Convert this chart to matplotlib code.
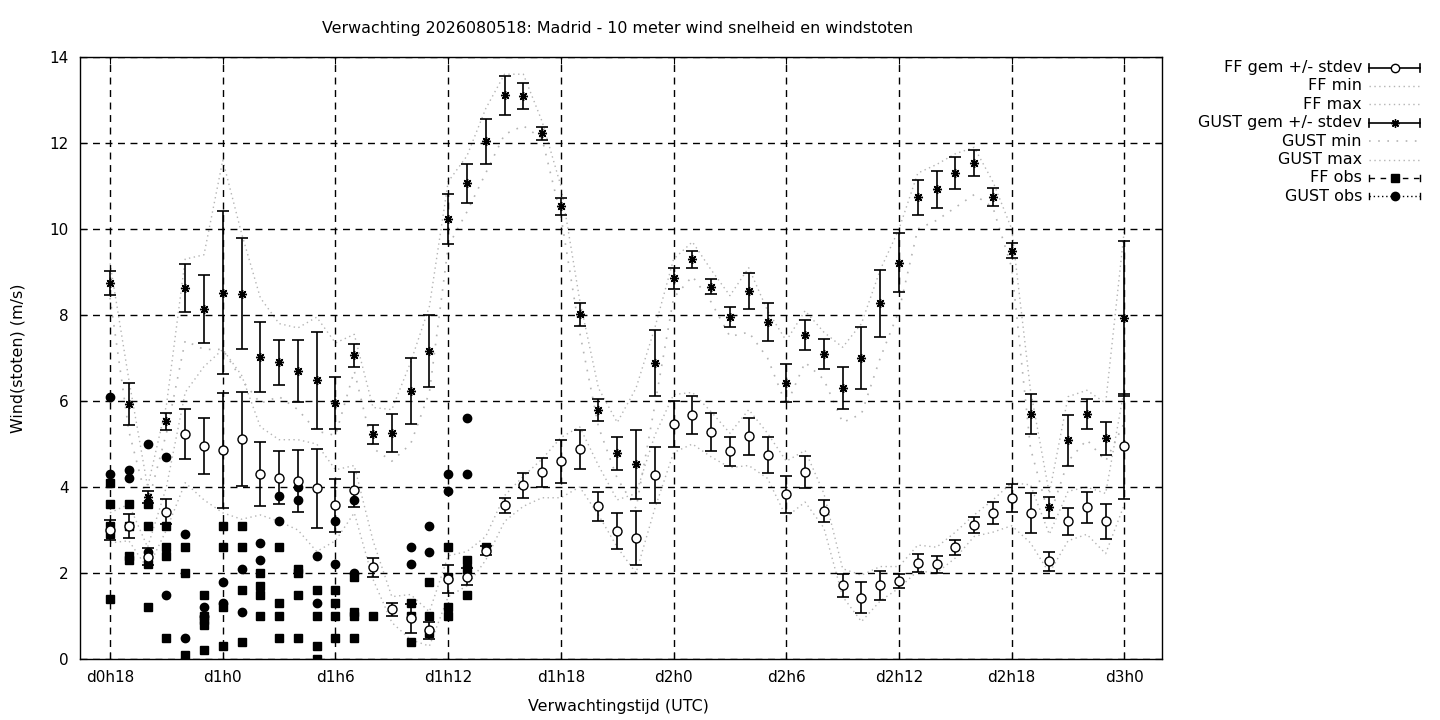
import numpy as np
import matplotlib.pyplot as plt

# forecast hours (d0h18 .. d3h0), hours counted from d0h0
hours = np.arange(18, 73)

ff_mean = [3.0, 3.1, 2.38, 3.43, 5.23, 4.95, 4.85, 5.11, 4.30, 4.22, 4.14, 3.97, 3.57, 3.94,
           2.13, 1.16, 0.95, 0.67, 1.86, 1.91, 2.52, 3.57, 4.04, 4.34, 4.60, 4.88, 3.55, 2.97,
           2.81, 4.27, 5.47, 5.67, 5.27, 4.83, 5.18, 4.74, 3.83, 4.34, 3.44, 1.71, 1.43, 1.71,
           1.81, 2.23, 2.20, 2.60, 3.11, 3.39, 3.74, 3.39, 2.27, 3.20, 3.53, 3.20, 4.95]
ff_sd = [0.24, 0.28, 0.2, 0.28, 0.58, 0.65, 1.33, 1.09, 0.75, 0.62, 0.73, 0.92, 0.61, 0.4,
         0.23, 0.15, 0.34, 0.2, 0.33, 0.2, 0.1, 0.18, 0.29, 0.33, 0.5, 0.45, 0.34, 0.42,
         0.63, 0.65, 0.54, 0.44, 0.44, 0.33, 0.43, 0.42, 0.43, 0.37, 0.25, 0.26, 0.36, 0.33,
         0.16, 0.21, 0.19, 0.17, 0.19, 0.26, 0.32, 0.47, 0.23, 0.32, 0.36, 0.41, 1.22]
ff_min = [2.7, 2.75, 2.1, 3.0, 4.1, 3.7, 3.4, 3.25, 3.35, 3.2, 3.0, 2.5, 2.75, 3.4,
          1.85, 0.85, 0.45, 0.3, 1.45, 1.7, 2.3, 3.2, 3.55, 3.75, 3.75, 4.0, 3.35, 2.6,
          2.0, 3.5, 4.8, 5.0, 4.7, 4.45, 4.5, 4.2, 3.3, 3.65, 3.05, 1.45, 0.87, 1.35,
          1.65, 2.05, 2.0, 2.35, 2.85, 2.95, 3.1, 2.7, 2.0, 2.75, 2.9, 2.45, 3.6]
ff_max = [3.4, 3.6, 2.6, 4.0, 6.2, 6.8, 7.2, 6.6, 5.4, 5.1, 5.1, 5.0, 4.4, 4.5,
          2.75, 1.45, 1.5, 1.1, 2.4, 2.5, 2.85, 3.8, 4.25, 4.65, 5.15, 5.4, 4.5, 3.7,
          3.85, 5.2, 6.15, 6.2, 5.75, 5.25, 5.8, 5.25, 4.6, 4.85, 3.85, 2.1, 1.95, 2.15,
          2.15, 2.65, 2.6, 2.95, 3.35, 3.7, 4.1, 4.05, 2.9, 3.9, 4.0, 3.85, 6.3]

gust_mean = [8.74, 5.93, 3.77, 5.53, 8.62, 8.13, 8.52, 8.50, 7.02, 6.90, 6.70, 6.48, 5.95, 7.06,
             5.23, 5.26, 6.23, 7.16, 10.23, 11.06, 12.04, 13.11, 13.09, 12.23, 10.53, 8.02, 5.79, 4.78,
             4.53, 6.88, 8.85, 9.30, 8.66, 7.95, 8.56, 7.83, 6.41, 7.53, 7.09, 6.30, 6.99, 8.27,
             9.22, 10.74, 10.92, 11.30, 11.53, 10.74, 9.50, 5.70, 3.53, 5.09, 5.69, 5.13, 7.92]
gust_sd = [0.28, 0.49, 0.14, 0.2, 0.56, 0.79, 1.9, 1.29, 0.82, 0.52, 0.72, 1.12, 0.6, 0.27,
           0.22, 0.44, 0.77, 0.83, 0.58, 0.45, 0.52, 0.45, 0.3, 0.15, 0.2, 0.27, 0.25, 0.38,
           0.8, 0.76, 0.25, 0.2, 0.18, 0.24, 0.42, 0.44, 0.44, 0.35, 0.35, 0.49, 0.72, 0.78,
           0.68, 0.41, 0.42, 0.38, 0.3, 0.21, 0.18, 0.47, 0.24, 0.59, 0.35, 0.39, 1.8]
gust_min = [8.4, 5.3, 3.6, 5.25, 7.4, 7.2, 7.2, 6.5, 5.95, 6.1, 5.8, 5.3, 5.2, 6.7,
            4.9, 4.6, 5.0, 6.2, 9.6, 10.4, 11.3, 12.2, 12.4, 12.1, 10.3, 7.6, 5.4, 4.2,
            3.5, 5.9, 8.4, 8.9, 8.3, 7.5, 7.6, 7.0, 5.9, 6.9, 6.5, 5.5, 5.7, 7.0,
            8.1, 10.0, 10.2, 10.5, 10.8, 10.5, 9.1, 4.9, 3.3, 4.6, 5.1, 4.6, 5.5]
gust_max = [9.2, 6.5, 4.0, 5.9, 9.3, 9.4, 11.6, 9.9, 8.4, 7.8, 7.7, 7.95, 7.35, 7.55,
            5.85, 5.8, 6.9, 8.2, 11.1, 11.7, 12.8, 13.6, 13.6, 12.5, 11.0, 8.35, 6.3, 5.5,
            6.3, 7.7, 9.3, 9.7, 9.05, 8.45, 9.1, 8.1, 7.4, 8.1, 7.6, 7.25, 7.8, 9.05,
            10.0, 11.3, 11.5, 11.75, 11.9, 11.1, 10.0, 6.25, 3.85, 6.1, 6.25, 5.95, 10.0]

# observations (several stations per hour)
obs_hours = list(range(18, 39))
ff_obs = [[4.1, 3.6, 3.1, 2.9, 1.4], [3.6, 3.1, 2.4, 2.3], [3.6, 3.1, 2.2, 1.2],
          [3.1, 2.6, 2.4, 0.5], [2.6, 2.0, 0.1], [1.5, 1.0, 0.9, 0.8, 0.2],
          [3.1, 2.6, 1.2, 0.3], [3.1, 2.6, 1.6, 0.4], [2.0, 1.7, 1.5, 1.0],
          [2.6, 1.3, 1.0, 0.5], [2.1, 2.0, 1.5, 0.5], [1.6, 1.0, 0.3, 0.0],
          [1.6, 1.3, 1.0, 0.5], [1.9, 1.1, 1.0, 0.5], [1.0], [],
          [1.3, 1.0, 0.4], [1.8, 1.0, 0.6], [2.6, 1.9, 1.2, 1.0], [2.3, 2.1, 1.5], [2.6]]
gust_obs = [[6.1, 4.3], [4.4, 4.2], [5.0, 2.5], [4.7, 1.5], [2.9, 0.5], [1.2, 1.0],
            [1.8, 1.3], [2.1, 1.1], [2.7, 2.3], [3.8, 3.2], [4.0, 3.7], [2.4, 1.3],
            [3.2, 2.2], [3.7, 2.0], [], [], [2.6, 2.2], [3.1, 2.5], [4.3, 3.9],
            [5.6, 4.3], []]

tick_pos = [18, 24, 30, 36, 42, 48, 54, 60, 66, 72]
tick_lab = ['d0h18', 'd1h0', 'd1h6', 'd1h12', 'd1h18', 'd2h0', 'd2h6', 'd2h12', 'd2h18', 'd3h0']

legend_labels = ['FF gem +/- stdev', 'FF min', 'FF max', 'GUST gem +/- stdev',
                 'GUST min', 'GUST max', 'FF obs', 'GUST obs']

plt.rcParams['font.family'] = 'DejaVu Sans'
grey = '#b4b4b4'
dots = (0, (1, 2.5))
sparse = (0, (1, 4.5))
asterisk = (8, 2, 0)

fig = plt.figure(figsize=(14.4, 7.2), dpi=100)
ax = fig.add_axes([80/1440, 61/720, 1082/1440, 602/720])

# min/max envelopes
ax.plot(hours, ff_min, color=grey, lw=1, ls=dots, zorder=1)
ax.plot(hours, ff_max, color=grey, lw=1, ls=dots, zorder=1)
ax.plot(hours, gust_min, color=grey, lw=1.2, ls=sparse, zorder=1)
ax.plot(hours, gust_max, color=grey, lw=1, ls=dots, zorder=1)

# observations
fx = [h for h, vals in zip(obs_hours, ff_obs) for v in vals]
fy = [v for vals in ff_obs for v in vals]
gx = [h for h, vals in zip(obs_hours, gust_obs) for v in vals]
gy = [v for vals in gust_obs for v in vals]
ax.plot(fx, fy, ls='none', marker='s', ms=6, color='black', zorder=3)
ax.plot(gx, gy, ls='none', marker='o', ms=6, color='black', zorder=3)

# means with stdev
ax.errorbar(hours, gust_mean, yerr=gust_sd, fmt='none', ecolor='black', elinewidth=1.2,
            capsize=4, capthick=1.2, zorder=4)
ax.plot(hours, gust_mean, ls='none', marker=asterisk, ms=6.5, mew=1, color='black', zorder=5)
ax.errorbar(hours, ff_mean, yerr=ff_sd, fmt='none', ecolor='black', elinewidth=1.2,
            capsize=4, capthick=1.2, zorder=4)
ax.plot(hours, ff_mean, ls='none', marker='o', ms=6.5, mfc='white', mec='black', mew=1,
        zorder=5)

ax.set_xlim(16.4, 74.0)
ax.set_ylim(0, 14)
ax.set_xticks(tick_pos)
ax.set_xticklabels(tick_lab)
ax.set_yticks(range(0, 15, 2))
ax.tick_params(direction='in', top=True, right=True, length=5, labelsize=11, pad=8)
ax.grid(True, color='black', ls=(0, (5, 4)), lw=1)
for s in ax.spines.values():
    s.set_linewidth(1)

fig.text(618/1440, 1 - 29/720, 'Verwachting 2026080518: Madrid - 10 meter wind snelheid en windstoten',
         ha='center', va='center', fontsize=11.4)
fig.text(618/1440, 1 - 707/720, 'Verwachtingstijd (UTC)', ha='center', va='center', fontsize=11.4)
fig.text(18/1440, 1 - 358/720, 'Wind(stoten) (m/s)', ha='center', va='center', rotation=90,
         fontsize=11.4)

# legend, drawn gnuplot style (text right aligned, sample to the right)
lg = fig.add_axes([0, 0, 1, 1])
lg.set_xlim(0, 1440)
lg.set_ylim(720, 0)
lg.axis('off')
x0, x1 = 1369, 1420
xm = (x0 + x1) / 2
for i, lab in enumerate(legend_labels):
    y = 67.5 + i * 18.4
    lg.text(1362, y, lab, ha='right', va='center', fontsize=11.5)
    if i in (0, 3):
        lg.plot([x0, x1], [y, y], color='black', lw=1.2)
        lg.plot([x0, x0], [y - 4, y + 4], color='black', lw=1.2)
        lg.plot([x1, x1], [y - 4, y + 4], color='black', lw=1.2)
        if i == 0:
            lg.plot(xm, y, marker='o', ms=6, mfc='white', mec='black')
        else:
            lg.plot(xm, y, marker=asterisk, ms=6, mew=1, color='black')
    elif i == 4:
        lg.plot([x0, x1], [y, y], color=grey, lw=1.2, ls=sparse)
    elif i in (1, 2, 5):
        lg.plot([x0, x1], [y, y], color=grey, lw=1, ls=dots)
    elif i == 6:
        lg.plot([x0, x1], [y, y], color='black', lw=1, ls=(0, (4, 4)))
        lg.plot([x0, x0], [y - 3, y + 3], color='black', lw=1)
        lg.plot([x1, x1], [y - 3, y + 3], color='black', lw=1)
        lg.plot(xm, y, marker='s', ms=6, color='black')
    else:
        lg.plot([x0, x1], [y, y], color='black', lw=1, ls=(0, (1, 2)))
        lg.plot([x0, x0], [y - 3, y + 3], color='black', lw=1)
        lg.plot([x1, x1], [y - 3, y + 3], color='black', lw=1)
        lg.plot(xm, y, marker='o', ms=6, color='black')

fig.savefig('out.png', dpi=100)
